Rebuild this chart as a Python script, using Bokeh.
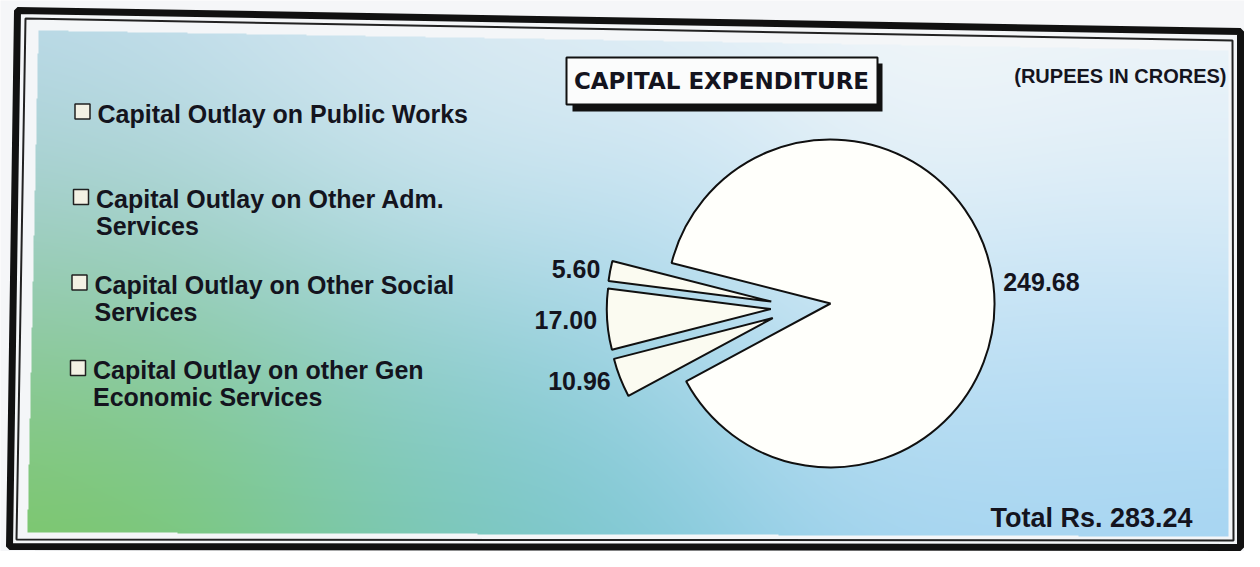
import numpy as np
from bokeh.plotting import figure
from bokeh.models import ColumnDataSource, Range1d
from bokeh.core.properties import value
from bokeh.embed import file_html
from bokeh.resources import INLINE

# ---------------- data ----------------
categories = [
    "Capital Outlay on Public Works",
    "Capital Outlay on Other Adm.\nServices",
    "Capital Outlay on Other Social\nServices",
    "Capital Outlay on other Gen\nEconomic Services",
]
values = [249.68, 5.60, 17.00, 10.96]
value_labels = ["249.68", "5.60", "17.00", "10.96"]
title_text = "CAPITAL EXPENDITURE"
unit_text = "(RUPEES IN CRORES)"
total_value = sum(values)
total_text = "Total Rs. %.2f" % total_value

# ---------------- layout helpers (screen px, y down) ----------------
H_PAGE = 567
def Y(yimg):
    return H_PAGE - yimg

FONT = value("Liberation Sans")
TXT = "#14141e"

p = figure(width=1244, height=551, x_range=Range1d(0, 1244), y_range=Range1d(16, 567),
           output_backend="svg", toolbar_location=None, min_border=0,
           x_axis_location=None, y_axis_location=None,
           outline_line_color=None, background_fill_color="#f5f6f8",
           border_fill_color="#f5f6f8")
p.xgrid.visible = False
p.ygrid.visible = False

# ---------------- frame ----------------
outer = [(17, 10), (1240, 31), (1240, 547), (9, 546)]
inner = [(25, 18), (1232, 40), (1233, 540), (16, 539)]
p.patch([a for a, b in outer], [Y(b) for a, b in outer], fill_color="#f4f6f8",
        line_color="#111111", line_width=7)
p.patch([a for a, b in inner], [Y(b) for a, b in inner], fill_color="#f4f6f8",
        line_color="#222222", line_width=2)

# ---------------- gradient background ----------------
gx0, gx1, gy0, gy1 = 27, 1230, 30, 537
quad = [(38, 30), (1228, 50), (1228, 536), (27, 532)]
xs = np.arange(gx0, gx1) + 0.5
ys = np.arange(gy0, gy1) + 0.5
GX, GY = np.meshgrid(xs, ys)
anchors = [
    (50, 50, (196, 223, 240)), (300, 60, (212, 231, 243)), (600, 70, (236, 243, 247)),
    (900, 70, (246, 248, 250)), (1200, 80, (242, 246, 249)), (1200, 250, (222, 238, 248)),
    (1200, 400, (178, 219, 244)), (1200, 530, (150, 205, 240)), (900, 530, (148, 205, 238)),
    (620, 530, (115, 195, 212)), (380, 530, (108, 196, 160)), (40, 535, (112, 198, 55)),
    (150, 520, (118, 200, 90)), (40, 430, (128, 198, 120)), (40, 330, (150, 200, 190)),
    (50, 230, (168, 206, 222)), (300, 290, (172, 213, 230)),
    (640, 300, (146, 204, 238)), (480, 160, (222, 236, 244)), (450, 420, (132, 202, 210)),
    (820, 300, (232, 243, 248)), (1000, 420, (185, 222, 244)), (250, 430, (122, 200, 170)),
]
sig = 150.0
num = np.zeros(GX.shape + (3,))
den = np.zeros(GX.shape)
for ax, ay, col in anchors:
    w = np.exp(-((GX - ax) ** 2 + (GY - ay) ** 2) / (2 * sig ** 2))
    den += w
    for k in range(3):
        num[..., k] += w * col[k]
rgb = num / den[..., None]
inside = np.ones(GX.shape, dtype=bool)
for i in range(4):
    x1, y1 = quad[i]
    x2, y2 = quad[(i + 1) % 4]
    inside &= ((x2 - x1) * (GY - y1) - (y2 - y1) * (GX - x1)) >= 0
Hh, Ww = GX.shape
img = np.zeros((Hh, Ww), dtype=np.uint32)
view = img.view(dtype=np.uint8).reshape((Hh, Ww, 4))
view[..., 0] = np.clip(rgb[..., 0], 0, 255).astype(np.uint8)
view[..., 1] = np.clip(rgb[..., 1], 0, 255).astype(np.uint8)
view[..., 2] = np.clip(rgb[..., 2], 0, 255).astype(np.uint8)
view[..., 3] = np.where(inside, 255, 0).astype(np.uint8)
img = np.flipud(img)
p.image_rgba(image=[img], x=gx0, y=Y(gy1), dw=Ww, dh=Hh)

# ---------------- pie ----------------
cx, cy = 830, Y(303)
R = 164
GAP_DEG = 187.0
vals = np.array(values)
spans = vals / total_value * 2 * np.pi
gc = np.radians(GAP_DEG)
start0 = gc - spans[0] - spans[1:].sum() / 2
starts = start0 + np.concatenate([[0], np.cumsum(spans)[:-1]])
ends = starts + spans
bis = (starts + ends) / 2
group = np.array([0, 30, 30, 30])
expl = np.array([0, 30, 30, 30])
px = cx + group * np.cos(gc) + expl * np.cos(bis)
py = cy + group * np.sin(gc) + expl * np.sin(bis)
fills = ["#fffffb", "#fbfbf1", "#fbfbf1", "#fbfbf1"]
src = ColumnDataSource(dict(x=px, y=py, start=starts, end=ends, fill=fills,
                            cat=categories, val=values))
p.wedge(x="x", y="y", radius=R, start_angle="start", end_angle="end",
        direction="anticlock", fill_color="fill", line_color="#101010",
        line_width=2, source=src)

lr = R + 10
lx = px + lr * np.cos(bis)
ly = py + lr * np.sin(bis)
align = ["left" if np.cos(b) > 0 else "right" for b in bis]
lsrc = ColumnDataSource(dict(x=lx, y=ly, t=value_labels, a=align))
p.text(x="x", y="y", text="t", text_align="a", text_baseline="middle",
       text_font=FONT, text_font_style="bold", text_font_size="25px",
       text_color=TXT, source=lsrc)

# ---------------- legend (manual) ----------------
n = len(categories)
bx = [82 - 1.5 * i for i in range(n)]
by = [Y(111 + 85.5 * i) for i in range(n)]
p.rect(x=bx, y=by, width=15, height=15, fill_color="#f3f1e4",
       line_color="#202020", line_width=1.5)
line1 = [c.split("\n")[0] for c in categories]
line2 = [c.split("\n")[1] if "\n" in c else "" for c in categories]
tx = [b + 15 for b in bx]
p.text(x=tx, y=[b - 2 for b in by], text=line1, text_align="left",
       text_baseline="middle", text_font=FONT, text_font_style="bold",
       text_font_size="25px", text_color=TXT)
p.text(x=tx, y=[b - 29 for b in by], text=line2, text_align="left",
       text_baseline="middle", text_font=FONT, text_font_style="bold",
       text_font_size="25px", text_color=TXT)

# ---------------- title box ----------------
p.quad(left=[572], right=[882], top=[Y(63)], bottom=[Y(111)], fill_color="#111111",
       line_color=None)
p.quad(left=[566], right=[877], top=[Y(57)], bottom=[Y(104)], fill_color="#fbfcfc",
       line_color="#111111", line_width=2)
p.text(x=[721], y=[Y(80)], text=[title_text], text_align="center",
       text_baseline="middle", text_font=value("DejaVu Sans"),
       text_font_style="bold", text_font_size="23px", text_color=TXT)

p.text(x=[1226], y=[Y(75)], text=[unit_text], text_align="right",
       text_baseline="middle", text_font=FONT, text_font_style="bold",
       text_font_size="20px", text_color=TXT)

p.text(x=[990], y=[Y(517)], text=[total_text], text_align="left",
       text_baseline="middle", text_font=FONT, text_font_style="bold",
       text_font_size="27px", text_color=TXT)

open("out.html", "w").write(file_html(p, INLINE))
